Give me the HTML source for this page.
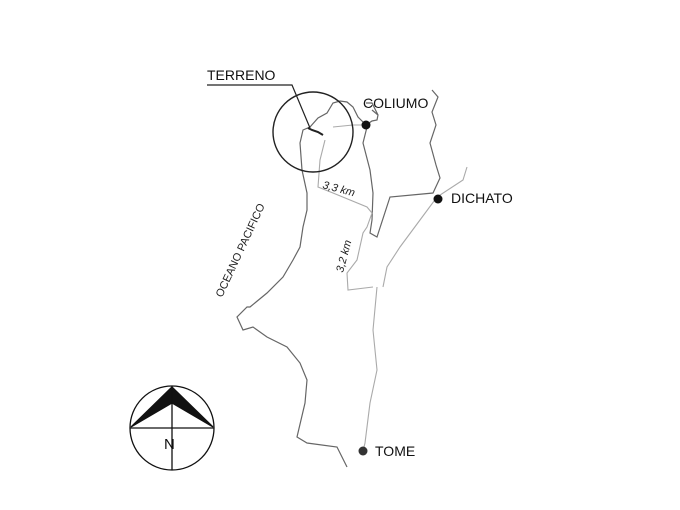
<!DOCTYPE html>
<html><head><style>body{margin:0;background:#fff}svg{display:block}</style></head><body>
<svg width="680" height="510" viewBox="0 0 680 510" xmlns="http://www.w3.org/2000/svg" font-family="Liberation Sans, sans-serif">
<g fill="none" stroke="#666" stroke-width="1.2">
<path d="M366,125 L363,122 L358,117 L353,107 L347,102 L340,101 L333,103 L327,113 L318,118 L310,127 L303,130 L300,143 L302,170 L307,193 L307,210 L303,227 L300,247 L293,260 L283,277 L267,293 L250,307 L247,307 L237,317 L243,330 L253,327 L267,337 L287,347 L300,363 L307,380 L305,403 L297,437 L307,443 L337,447 L347,467"/>
<path d="M366,125 L372,121 L377,120 L378,115 L372,110 M378,115 L372,103 L366,103"/>
<path d="M367,127 L363,143 L370,170 L373,193 L372,220 L370,233 L377,237 L390,197 L433,193 L440,178 L436,165 L430,143 L436,125 L432,112 L438,97 L432,90"/>
</g>
<g fill="none" stroke="#aaa" stroke-width="1.1">
<path d="M333,127 L353,125 L366,125"/>
<path d="M325,140 L320,160 L318,187 L333,193 L367,207 L372,213 L367,227 L363,233 L357,260 L347,273 L348,290 L373,287"/>
<path d="M467,167 L463,180 L437,197 L420,220 L400,247 L387,267 L383,287"/>
<path d="M377,287 L373,330 L377,370 L370,403 L365,443 L363,451"/>
</g>
<circle cx="313" cy="132" r="40" fill="none" stroke="#222" stroke-width="1.4"/>
<path d="M308,128 L312,130 L318,132 L323,135" stroke="#222" stroke-width="2" fill="none"/>
<text x="207" y="80" font-size="14" fill="#111">TERRENO</text>
<path d="M207,85 L292,85 L310,128" stroke="#222" stroke-width="1.2" fill="none"/>
<circle cx="366" cy="125" r="4.5" fill="#111"/>
<text x="363" y="108" font-size="14" fill="#111">COLIUMO</text>
<circle cx="438" cy="199" r="4.5" fill="#111"/>
<text x="451" y="203" font-size="14" fill="#111">DICHATO</text>
<circle cx="363" cy="451" r="4.5" fill="#333"/>
<text x="375" y="456" font-size="14" fill="#111">TOME</text>
<text x="0" y="0" font-size="11" font-style="italic" fill="#222" transform="translate(322,188) rotate(15)">3,3 km</text>
<text x="0" y="0" font-size="11" font-style="italic" fill="#222" transform="translate(343,273) rotate(-75)">3,2 km</text>
<text x="0" y="0" font-size="11" fill="#222" transform="translate(222,298) rotate(-65)">OCEANO PACIFICO</text>
<g stroke="#111" stroke-width="1.3">
<circle cx="172" cy="428" r="42" fill="none"/>
<path d="M172,387 L131,427 L172,403 L213,427 Z" fill="#111"/>
<line x1="130" y1="428" x2="214" y2="428"/>
<line x1="172" y1="386" x2="172" y2="470"/>
</g>
<text x="164" y="449" font-size="15" fill="#111">N</text>
</svg>
</body></html>
